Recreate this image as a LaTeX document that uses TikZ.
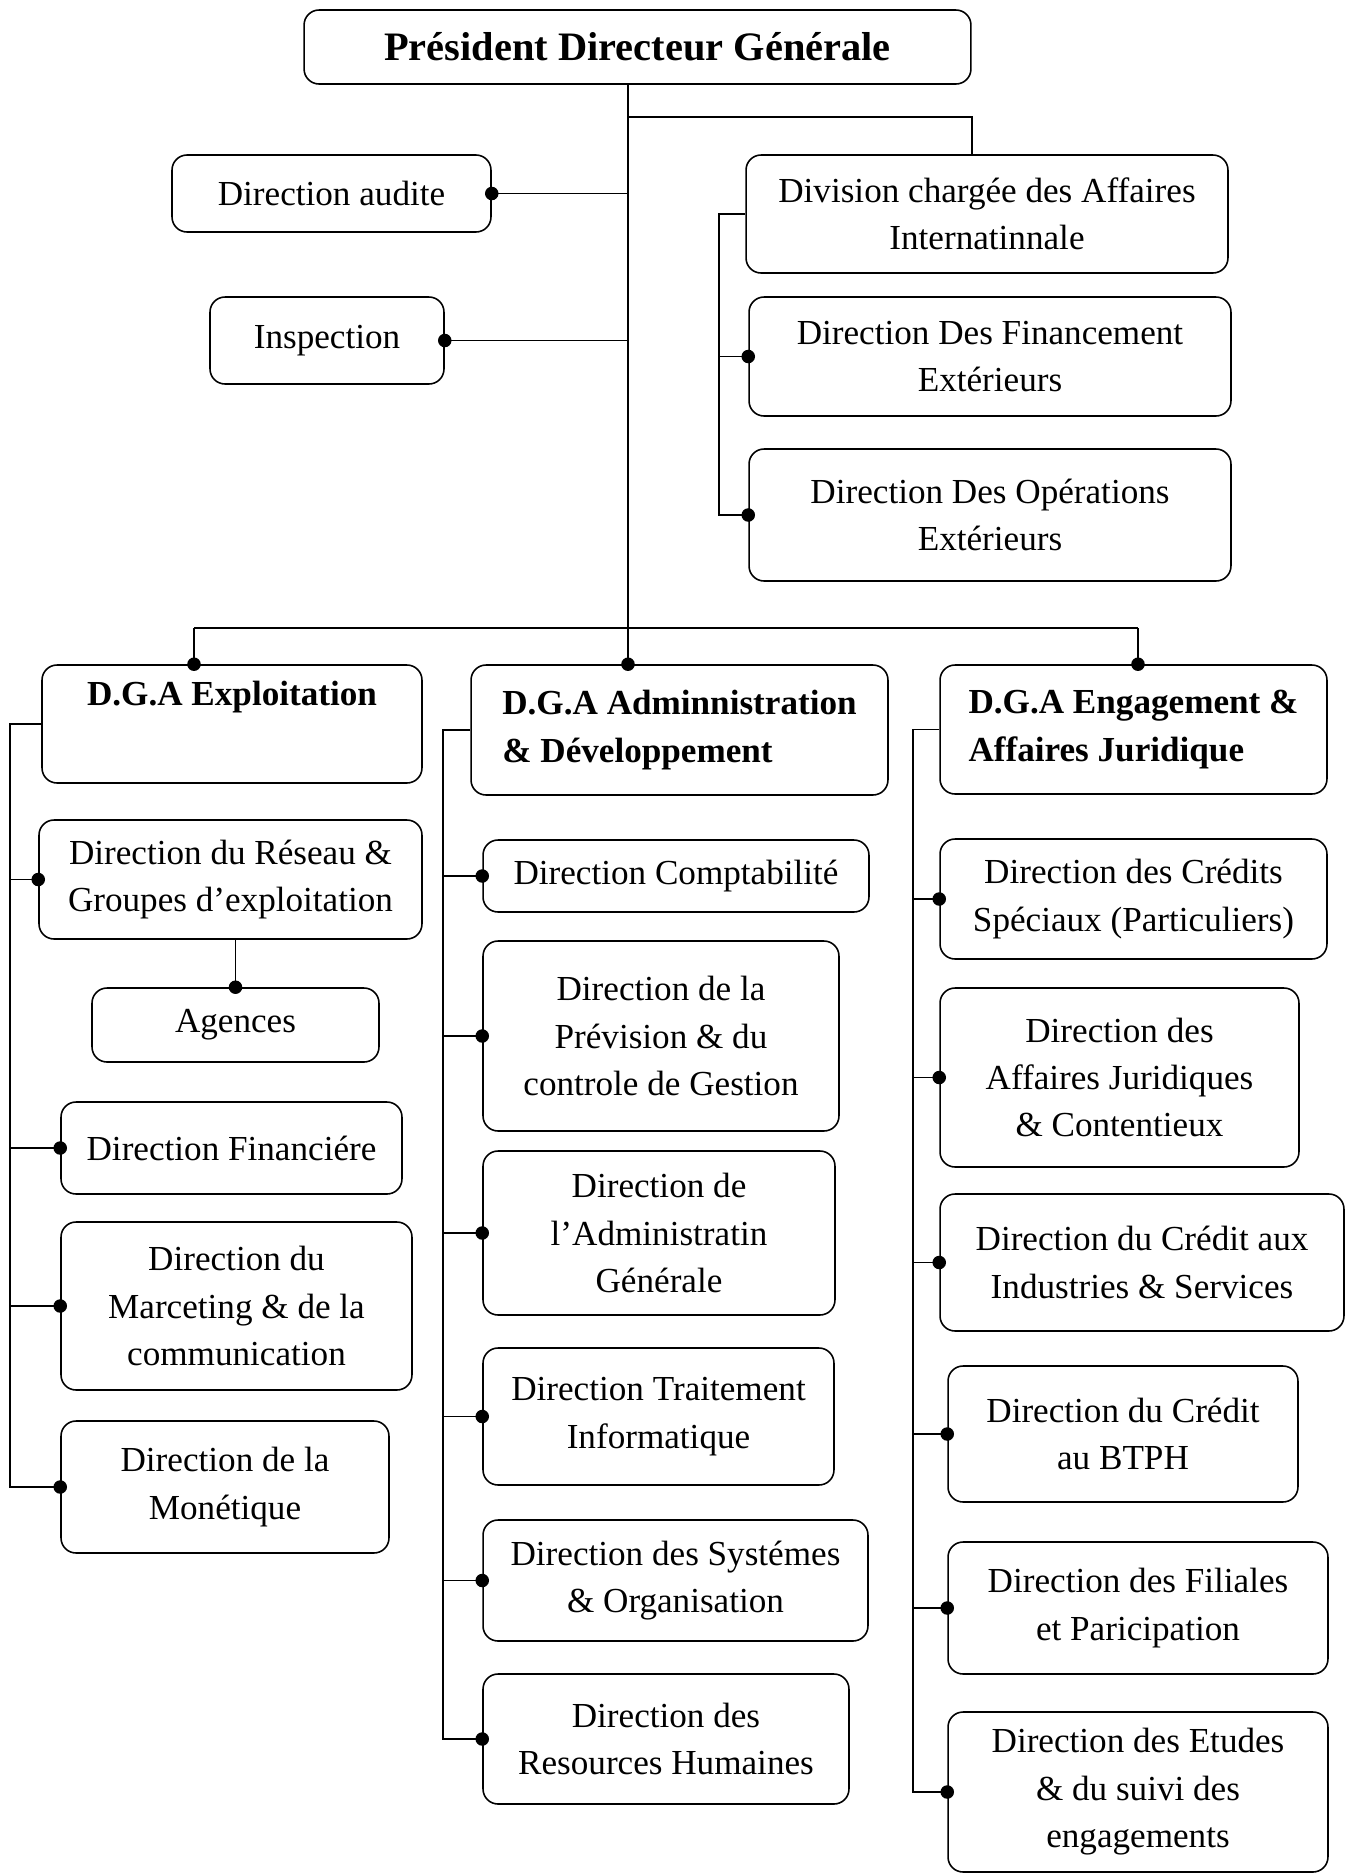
\documentclass[tikz,border=0pt]{standalone}
\usepackage{fontspec}
\setmainfont{Liberation Serif}
\usepackage{tikz}
\usetikzlibrary{arrows.meta,calc}
\tikzstyle{dirbox}=[
draw,
line width=0.9pt,
rounded corners=0.3cm,
align=center,
inner sep=2pt,
font=\fontsize{20}{27}\selectfont
]
\tikzstyle{dgabox}=[
dirbox,
align=left,
font=\fontsize{20}{27}\selectfont\bfseries
]
\tikzstyle{wire}=[
line width=0.9pt
]
\tikzstyle{tap}=[
line width=0.9pt,
-{Circle[length=0.27cm]},
shorten >=-0.135cm
]

\begin{document}
\begin{tikzpicture}[x=0.02cm,y=-0.02cm]

\useasboundingbox (0,0) rectangle (1345,1874);

\node (pdg) [dirbox, minimum width=13.34cm, minimum height=1.48cm, font=\fontsize{23}{28}\selectfont\bfseries] at (637.5,47) {Président Directeur Générale};

\node (audit) [dirbox, minimum width=6.38cm, minimum height=1.54cm] at (331.5,193.5) {Direction audite};
\node (insp) [dirbox, minimum width=4.68cm, minimum height=1.74cm] at (327,340.5) {Inspection};

\node (div) [dirbox, minimum width=9.64cm, minimum height=2.36cm] at (987,214) {Division chargée des Affaires\\Internatinnale};
\node (fin) [dirbox, minimum width=9.64cm, minimum height=2.38cm] at (990,356.5) {Direction Des Financement\\Extérieurs};
\node (opx) [dirbox, minimum width=9.64cm, minimum height=2.64cm] at (990,515) {Direction Des Opérations\\Extérieurs};

\node (exp) [dirbox, font=\fontsize{20}{27}\selectfont\bfseries, minimum width=7.6cm, minimum height=2.36cm] at (232,724) {D.G.A Exploitation\\\strut};
\node (adm) [dgabox, minimum width=8.34cm, minimum height=2.6cm] at (679.5,730) {D.G.A Adminnistration\\\& Développement};
\node (eng) [dgabox, minimum width=7.74cm, minimum height=2.58cm] at (1133.5,729.5) {D.G.A Engagement \&\\Affaires Juridique};

\node (res) [dirbox, minimum width=7.66cm, minimum height=2.38cm] at (230.5,879.5) {Direction du Réseau \&\\Groupes d’exploitation};
\node (age) [dirbox, minimum width=5.74cm, minimum height=1.48cm] at (235.5,1025) {Agences};
\node (fnc) [dirbox, minimum width=6.82cm, minimum height=1.84cm] at (231.5,1148) {Direction Financiére};
\node (mkt) [dirbox, minimum width=7.02cm, minimum height=3.36cm] at (236.5,1306) {Direction du\\Marceting \& de la\\communication};
\node (mon) [dirbox, minimum width=6.56cm, minimum height=2.64cm] at (225,1487) {Direction de la\\Monétique};

\node (cpt) [dirbox, minimum width=7.72cm, minimum height=1.44cm] at (676,876) {Direction Comptabilité};
\node (prv) [dirbox, minimum width=7.12cm, minimum height=3.8cm] at (661,1036) {Direction de la\\Prévision \& du\\controle de Gestion};
\node (gen) [dirbox, minimum width=7.04cm, minimum height=3.28cm] at (659,1233) {Direction de\\l’Administratin\\Générale};
\node (inf) [dirbox, minimum width=7.02cm, minimum height=2.74cm] at (658.5,1416.5) {Direction Traitement\\Informatique};
\node (sys) [dirbox, minimum width=7.7cm, minimum height=2.42cm] at (675.5,1580.5) {Direction des Systémes\\\& Organisation};
\node (rh) [dirbox, minimum width=7.32cm, minimum height=2.6cm] at (666,1739) {Direction des\\Resources Humaines};

\node (spc) [dirbox, minimum width=7.74cm, minimum height=2.4cm] at (1133.5,899) {Direction des Crédits\\Spéciaux (Particuliers)};
\node (jur) [dirbox, minimum width=7.18cm, minimum height=3.58cm] at (1119.5,1077.5) {Direction des\\Affaires Juridiques\\\& Contentieux};
\node (ind) [dirbox, minimum width=8.08cm, minimum height=2.74cm] at (1142,1262.5) {Direction du Crédit aux\\Industries \& Services};
\node (btp) [dirbox, minimum width=7cm, minimum height=2.72cm] at (1123,1434) {Direction du Crédit\\au BTPH};
\node (fil) [dirbox, minimum width=7.6cm, minimum height=2.64cm] at (1138,1608) {Direction des Filiales\\et Paricipation};
\node (etu) [dirbox, minimum width=7.6cm, minimum height=3.2cm] at (1138,1792) {Direction des Etudes\\\& du suivi des\\engagements};

\coordinate (spine) at (628,628);
\coordinate (fork) at (628,117);
\coordinate (busl) at (194,628);
\coordinate (busr) at (1138,628);

\draw [wire] (pdg.south -| spine) -- (spine);
\draw [wire] (fork) -| ([xshift=-0.3cm]div.north);
\draw [tap] (audit.east -| spine) -- (audit.east);
\draw [tap] (insp.east -| spine) -- (insp.east);

\draw [wire] (div.west) -- ++(-26,0) coordinate (divbar) |- (opx.west);
\draw [tap] (divbar |- fin.west) -- (fin.west);
\draw [tap] (divbar |- opx.west) -- (opx.west);

\draw [wire] (busl) -- (busr);
\draw [tap] (busl) -- (busl |- exp.north);
\draw [tap] (spine) -- (spine |- adm.north);
\draw [tap] (busr) -- (busr |- eng.north);

\draw [wire] (exp.west) -- ++(-31,0) coordinate (expbar) |- (mon.west);
\draw [tap] (expbar |- res.west) -- (res.west);
\draw [tap] (res.south -| age.north) -- (age.north);
\draw [tap] (expbar |- fnc.west) -- (fnc.west);
\draw [tap] (expbar |- mkt.west) -- (mkt.west);
\draw [tap] (expbar |- mon.west) -- (mon.west);

\draw [wire] (adm.west) -- ++(-27,0) coordinate (admbar) |- (rh.west);
\draw [tap] (admbar |- cpt.west) -- (cpt.west);
\draw [tap] (admbar |- prv.west) -- (prv.west);
\draw [tap] (admbar |- gen.west) -- (gen.west);
\draw [tap] (admbar |- inf.west) -- (inf.west);
\draw [tap] (admbar |- sys.west) -- (sys.west);
\draw [tap] (admbar |- rh.west) -- (rh.west);

\draw [wire] (eng.west) -- ++(-26,0) coordinate (engbar) |- (etu.west);
\draw [tap] (engbar |- spc.west) -- (spc.west);
\draw [tap] (engbar |- jur.west) -- (jur.west);
\draw [tap] (engbar |- ind.west) -- (ind.west);
\draw [tap] (engbar |- btp.west) -- (btp.west);
\draw [tap] (engbar |- fil.west) -- (fil.west);
\draw [tap] (engbar |- etu.west) -- (etu.west);

\end{tikzpicture}
\end{document}
